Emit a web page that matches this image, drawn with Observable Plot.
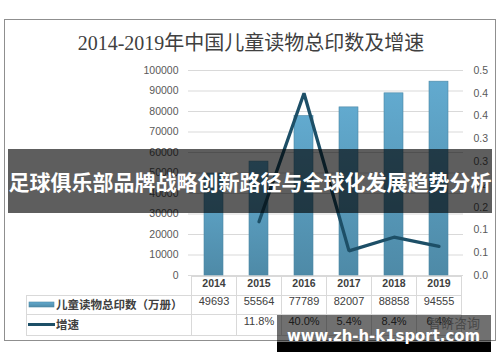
<!DOCTYPE html>
<html><head><meta charset="utf-8">
<script src="https://cdn.jsdelivr.net/npm/d3@7"></script>
<script src="https://cdn.jsdelivr.net/npm/@observablehq/plot@0.6"></script>
<style>
body{margin:0;background:#fff;}
#chart{position:relative;width:500px;height:362px;overflow:hidden;}
#chart svg{position:absolute;left:0;top:0;}
</style></head>
<body><div id="chart"></div>
<script>
const title = "2014-2019年中国儿童读物总印数及增速";
const years = ["2014","2015","2016","2017","2018","2019"];
const prints = [49693,55564,77789,82007,88858,94555];
const growth = [null,0.118,0.400,0.054,0.084,0.064];
const growthLabels = ["","11.8%","40.0%","5.4%","8.4%","6.4%"];
const leftTicks = [0,10000,20000,30000,40000,50000,60000,70000,80000,90000,100000];
const rightTicks = [0,0.05,0.1,0.15,0.2,0.25,0.3,0.35,0.4,0.45];
const seriesNames = ["儿童读物总印数（万册）","增速"];
const bannerText = "足球俱乐部品牌战略创新路径与全球化发展趋势分析";
const watermarkText = "www.zh-h-k1sport.com";
const logoText = "智研咨询";

const leftMax = 100000, rightMax = 0.45;
const toLeft = v => v * leftMax / rightMax;
const fmt1 = v => (Math.round(v * 10 + 1e-9) / 10).toFixed(1);

const rows = years.map((y, i) => ({year: y, prints: prints[i], growth: growth[i], gl: growthLabels[i]}));

const sans = "'Liberation Sans','Noto Sans CJK SC',sans-serif";
const lineColor = "#1d4f67";

const plot = Plot.plot({
  width: 500, height: 362,
  marginLeft: 188, marginRight: 37, marginTop: 70, marginBottom: 87,
  x: {type: "band", domain: years, paddingInner: 0.58, paddingOuter: 0.29, axis: null},
  y: {domain: [0, leftMax], axis: null},
  style: {background: "transparent", fontFamily: sans, overflow: "visible"},
  marks: [
    Plot.ruleY(leftTicks, {stroke: "#d9d9d9", strokeWidth: 1}),
    Plot.axisY(leftTicks, {anchor: "left", tickSize: 0, tickPadding: 10, fill: "#595959", fontSize: 10.5, tickFormat: d => String(d), label: null}),
    Plot.axisY(rightTicks.map(toLeft), {anchor: "right", tickSize: 0, tickPadding: 10, fill: "#595959", fontSize: 10.5, tickFormat: v => fmt1(v * rightMax / leftMax), label: null}),
    Plot.barY(rows, {x: "year", y: "prints", fill: "url(#barGrad)", stroke: "#4b87a4", strokeWidth: 0.6}),
    Plot.line(rows.filter(d => d.growth != null), {x: "year", y: d => toLeft(d.growth), stroke: lineColor, strokeWidth: 3.3, strokeLinejoin: "miter"}),
    Plot.text(rows, {x: "year", text: "year", frameAnchor: "bottom", dy: 11, fontSize: 10.5, fontWeight: "bold", fill: "#404040"}),
    Plot.text(rows, {x: "year", text: d => String(d.prints), frameAnchor: "bottom", dy: 29, fontSize: 11, fill: "#404040"}),
    Plot.text(rows, {x: "year", text: "gl", frameAnchor: "bottom", dy: 49, fontSize: 11, fill: "#404040"})
  ]
});

document.getElementById("chart").appendChild(plot);
const svg = d3.select(plot);
svg.insert("defs", ":first-child").html(
  `<linearGradient id="barGrad" x1="0" y1="0" x2="0" y2="1">
     <stop offset="0" stop-color="#62aacf"/>
     <stop offset="1" stop-color="#4e8aa7"/>
   </linearGradient>`);

// table grid derived from scales
const xs = plot.scale("x"), ys = plot.scale("y");
const centers = years.map(y => xs.apply(y) + xs.bandwidth / 2);
const step = centers[1] - centers[0];
const edges = [centers[0] - step / 2, ...centers.map(c => c + step / 2)];
const base = ys.apply(0);
const tLeft = 26;
const r0 = base + 1, r1 = base + 20, r2 = base + 39, r3 = base + 60;
const grid = svg.append("g").attr("stroke", "#d9d9d9").attr("stroke-width", 1).attr("shape-rendering", "crispEdges");
grid.append("line").attr("x1", edges[0]).attr("x2", edges[6]).attr("y1", r0).attr("y2", r0);
[r1, r2, r3].forEach(r => grid.append("line").attr("x1", tLeft).attr("x2", edges[6]).attr("y1", r).attr("y2", r));
edges.forEach(e => grid.append("line").attr("x1", e).attr("x2", e).attr("y1", r0).attr("y2", r3));
grid.append("line").attr("x1", tLeft).attr("x2", tLeft).attr("y1", r1).attr("y2", r3);

// legend cells
svg.append("rect").attr("x", 29).attr("y", (r1 + r2) / 2 - 2.5).attr("width", 25).attr("height", 5)
  .attr("fill", "url(#barGrad)").attr("stroke", "#4b87a4").attr("stroke-width", 0.6);
svg.append("line").attr("x1", 28).attr("x2", 55).attr("y1", (r2 + r3) / 2).attr("y2", (r2 + r3) / 2)
  .attr("stroke", lineColor).attr("stroke-width", 3);
const lab = svg.append("g").attr("text-anchor", "start")
  .attr("font-family", "'Noto Sans CJK SC',sans-serif").attr("font-size", 11.5).attr("font-weight", 600).attr("fill", "#404040");
lab.append("text").attr("x", 56).attr("y", (r1 + r2) / 2).attr("dy", "0.35em").text(seriesNames[0]);
lab.append("text").attr("x", 56).attr("y", (r2 + r3) / 2).attr("dy", "0.35em").text(seriesNames[1]);

// logo under watermark
svg.append("text").attr("x", 428).attr("y", 323).attr("dy", "0.35em").attr("text-anchor", "start")
  .attr("font-family", "'Noto Sans CJK SC',sans-serif").attr("font-size", 13)
  .attr("fill", "#a8a8a8").text(logoText);

// frame
svg.append("rect").attr("x", 4.5).attr("y", 19.5).attr("width", 491).attr("height", 321)
  .attr("fill", "none").attr("stroke", "#8f8f8f").attr("stroke-width", 1);

// title
svg.append("text").attr("x", 251).attr("y", 43).attr("dy", "0.35em").attr("text-anchor", "middle")
  .attr("font-family", "'Liberation Serif','Noto Sans CJK SC',serif").attr("font-size", 20)
  .attr("fill", "#404040").text(title);

// banner overlay
svg.append("rect").attr("x", 8).attr("y", 149).attr("width", 484).attr("height", 64).attr("fill", "rgba(0,0,0,0.63)");
svg.append("text").attr("x", 250).attr("y", 183).attr("dy", "0.35em").attr("text-anchor", "middle")
  .attr("font-family", "'Noto Sans CJK SC',sans-serif").attr("font-size", 21).attr("font-weight", "bold")
  .attr("fill", "#fff").text(bannerText);

// watermark overlay
svg.append("rect").attr("x", 277).attr("y", 315).attr("width", 214).attr("height", 27).attr("fill", "rgba(0,0,0,0.56)");
svg.append("rect").attr("x", 277).attr("y", 342).attr("width", 214).attr("height", 10).attr("fill", "#000");
svg.append("text").attr("x", 287).attr("y", 341).attr("text-anchor", "start").attr("font-family", "'DejaVu Sans',sans-serif")
  .attr("font-size", 15).attr("font-weight", "bold").attr("fill", "#fff")
  .attr("textLength", 193).attr("lengthAdjust", "spacingAndGlyphs").text(watermarkText);
</script>
</body></html>
